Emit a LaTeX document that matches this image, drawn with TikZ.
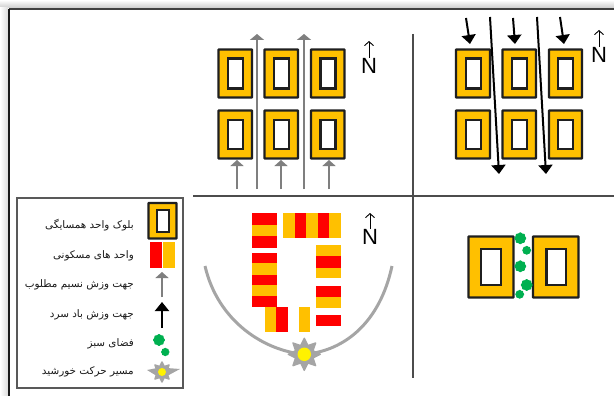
\documentclass[tikz,border=0pt]{standalone}
\usepackage{fontspec}
\setmainfont{DejaVu Sans}
\newfontfamily\arabicfont[Script=Arabic]{DejaVu Sans}
\newfontfamily\nfont{Liberation Sans}
\TeXXeTstate=1
\usetikzlibrary{arrows.meta,shapes.geometric,calc}
\definecolor{amber}{RGB}{255,192,0}
\definecolor{gr}{RGB}{127,127,127}
\definecolor{sungray}{RGB}{165,165,165}
\definecolor{leaf}{RGB}{0,176,80}
\tikzset{
 x=1pt,y=-1pt,
 outerblock/.style={draw=black!88,line width=2.2pt,fill=amber,rounded corners=0.5pt},
 innerblock/.style={draw=black!88,line width=2.1pt,fill=white},
 rule/.style={draw=black!70,line width=1.1pt},
 warm/.style={gr,line width=1.6pt,-{Triangle[width=13pt,length=6pt]}},
 longwarm/.style={gr,line width=1.8pt,-{Triangle[width=14pt,length=6pt]}},
 cold/.style={black,line width=2pt,-{Triangle[width=14pt,length=9pt]}},
 northarrow/.style={black,line width=0.9pt,-{Straight Barb[length=4pt,width=9pt]}},
 northtext/.style={font=\nfont\fontsize{22}{22}\selectfont,inner sep=0},
 legendtext/.style={font=\arabicfont\fontsize{10.4}{12}\selectfont,anchor=east,inner sep=0,text=black!90},
 bush/.style={fill=leaf,draw=leaf,line width=1pt,line join=round,star,star points=8,star point ratio=1.18,inner sep=0,minimum size=#1},
 sunray/.style={fill=sungray,draw=sungray,line width=1.4pt,line join=round,star,star points=8,star point ratio=1.7,inner sep=0,minimum size=#1},
 sundisc/.style={circle,fill=yellow,draw=none,inner sep=0,minimum size=#1},
}
\newcommand{\blockunit}[7]{% name, x0,y0,x1,y1, inner left, vertical inset
 \draw[outerblock] (#2,#3) rectangle (#4,#5);
 \draw[innerblock] (#6,{#3+#7}) rectangle ({#6+15},{#5-#7});
 \node[inner sep=0,minimum size=0] (#1) at ({(#2+#4)/2},{(#3+#5)/2}) {};
}
\begin{document}
\begin{tikzpicture}
\useasboundingbox (0,0) rectangle (614,396);
\fill[white] (0,0) rectangle (614,396);
% window edge
\shade[top color=white,bottom color=black!20] (0,0) rectangle (614,8);
\shade[left color=white,right color=black!14] (0,8) rectangle (8,396);
\draw[black!75,line width=2pt] (9,9) -- (614,9);
\draw[black!90,line width=2pt] (9,9) -- (9,396);
% cross lines
\coordinate (vt) at (413,34); \coordinate (vb) at (413,378);
\coordinate (hl) at (193,196); \coordinate (hr) at (614,196);
\draw[rule] (vt) -- (vb);
\draw[rule] (hl) -- (hr);
% top-left block group
\blockunit{a1}{218.5}{49.5}{252}{97.5}{228}{9}
\blockunit{a2}{264.5}{49.5}{298}{97.5}{274}{9}
\blockunit{a3}{311}{49.5}{344.5}{97.5}{320.5}{9}
\blockunit{a4}{218.5}{110.5}{252}{158.5}{228}{9.5}
\blockunit{a5}{264.5}{110.5}{298}{158.5}{274}{9.5}
\blockunit{a6}{311}{110.5}{344.5}{158.5}{320.5}{9.5}
% top-right block group
\blockunit{b1}{456}{49.5}{490}{97.5}{466}{9}
\blockunit{b2}{502.5}{49.5}{536}{97.5}{512}{9}
\blockunit{b3}{549}{49.5}{582}{97.5}{558}{9}
\blockunit{b4}{456}{110.5}{490}{158.5}{466}{9.5}
\blockunit{b5}{502.5}{110.5}{536}{158.5}{512}{9.5}
\blockunit{b6}{549}{110.5}{582}{158.5}{558}{9.5}
% gray arrows
\foreach \n/\xa/\ya/\yb in {g1/237/189/160,g2/257/189/34,g3/281/189/160,g4/304/189/34,g5/329/189/160}{
 \coordinate (\n s) at (\xa,\ya); \coordinate (\n e) at (\xa,\yb);
}
\draw[warm] (g1s) -- (g1e);
\draw[longwarm] (g2s) -- (g2e);
\draw[warm] (g3s) -- (g3e);
\draw[longwarm] (g4s) -- (g4e);
\draw[warm] (g5s) -- (g5e);
% black arrows
\coordinate (k1s) at (466,18); \coordinate (k1e) at (470,44);
\coordinate (k2s) at (513,18); \coordinate (k2e) at (515,44);
\coordinate (k3s) at (560,17); \coordinate (k3e) at (564,44);
\coordinate (k4s) at (490,17); \coordinate (k4e) at (499,174);
\coordinate (k5s) at (537,17); \coordinate (k5e) at (546,174);
\foreach \n in {k1,k2,k3,k4,k5}{\draw[cold] (\n s) -- (\n e);}
% north marks
\node[northtext] (n1) at (369,66) {N};
\coordinate (n1t) at (369,41); \draw[northarrow] (n1.north) -- (n1t);
\node[northtext] (n2) at (599,55) {N};
\coordinate (n2t) at (599,30); \draw[northarrow] (n2.north) -- (n2t);
\node[northtext] (n3) at (370,237) {N};
\coordinate (n3t) at (370,213); \draw[northarrow] (n3.north) -- (n3t);
% housing units: left column
\foreach \ya/\yb/\c in {213.3/225/red,225/236.3/amber,236.3/247.7/red,252.7/263.3/red,263.3/274.7/amber,274.7/285/red,285/295.7/amber,295.7/307/red}
 \fill[fill=\c] (251.7,\ya) rectangle (276.7,\yb);
% top row
\foreach \xa/\xb/\c in {283/295/amber,295/306/red,306/317.7/amber,317.7/329.3/red,329.3/340.7/amber}
 \fill[fill=\c] (\xa,213.3) rectangle (\xb,238.3);
% right column
\foreach \ya/\yb/\c in {245/256.3/amber,256.3/267.7/red,267.7/278.3/amber,285.7/296.7/red,296.7/308.3/amber,315/326.3/red}
 \fill[fill=\c] (315.7,\ya) rectangle (340.7,\yb);
% bottom row
\foreach \xa/\xb/\c in {265/276.3/amber,276.3/288/red,299.3/310.3/amber}
 \fill[fill=\c] (\xa,307) rectangle (\xb,332);
% sun path
\coordinate (pa) at (205,266); \coordinate (pb) at (392,266);
\coordinate (sunc) at (304.3,354.3);
\draw[sungray,line width=3pt] (pa) .. controls (218,322) and (265,351) .. (sunc) .. controls (345,351) and (380,322) .. (pb);
\node[sunray=32pt] (sun) at (sunc) {};
\node[sundisc=13.5pt] at (sun) {};
% two blocks with greenery
\draw[outerblock] (468.5,236.5) rectangle (513.5,297.5);
\draw[innerblock] (481,249) rectangle (501,285);
\draw[outerblock] (533,236.5) rectangle (578.5,297.5);
\draw[innerblock] (546.5,249) rectangle (566,285);
\node[bush=11pt] (t1) at (520.3,238.3) {};
\node[bush=8pt] (t2) at (526.7,250.3) {};
\node[bush=11pt] (t3) at (520.3,266.3) {};
\node[bush=11pt] (t4) at (526.7,285) {};
\node[bush=8pt] (t5) at (519.7,294.3) {};
% legend
\node[draw=black!65,line width=1.3pt,fill=white,inner sep=0,minimum width=166pt,minimum height=190pt] (legend) at (100,293) {};
\node[legendtext] (l1) at (134,225) {\beginR بلوک واحد همسایگی\endR};
\node[legendtext] (l2) at (134,256) {\beginR واحد های مسکونی\endR};
\node[legendtext] (l3) at (134,285) {\beginR جهت وزش نسیم مطلوب\endR};
\node[legendtext] (l4) at (134,315) {\beginR جهت وزش باد سرد\endR};
\node[legendtext] (l5) at (134,344) {\beginR فضای سبز\endR};
\node[legendtext] (l6) at (134,372) {\beginR مسیر حرکت خورشید\endR};
\draw[outerblock,line width=2.4pt] (148.5,203) rectangle (176.5,238.5);
\draw[innerblock,line width=2pt] (157,209.5) rectangle (168.5,231.5);
\fill[red] (150,242) rectangle (162,268);
\fill[amber] (163,242) rectangle (174.5,268);
\coordinate (lgs) at (162,297); \coordinate (lge) at (162,272);
\draw[warm] (lgs) -- (lge);
\coordinate (lks) at (162,328); \coordinate (lke) at (162,302);
\draw[cold] (lks) -- (lke);
\node[bush=11pt] (lb1) at (159,340) {};
\node[bush=7.5pt] (lb2) at (165.3,352) {};
\node[sunray=20pt] (lsun) at (162,372) {};
\coordinate (lsa) at (147,370); \coordinate (lsb) at (180,369);
\fill[sungray] (lsa) -- (157,368) -- (157,376) -- cycle;
\fill[sungray] (lsb) -- (167,368) -- (167,376) -- cycle;
\node[sundisc=8pt] at (lsun) {};
\end{tikzpicture}
\end{document}
